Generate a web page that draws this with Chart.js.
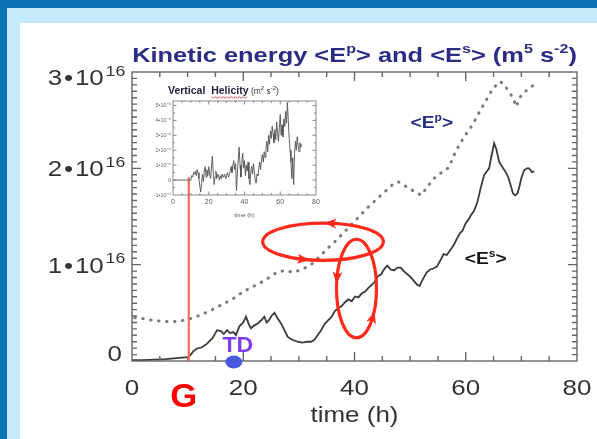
<!DOCTYPE html>
<html><head><meta charset="utf-8">
<script src="https://cdn.jsdelivr.net/npm/chart.js@4.4.1/dist/chart.umd.min.js"></script>
<style>
html,body{margin:0;padding:0;background:#fff}
#wrap{position:relative;width:597px;height:439px;background:#0a74b3;overflow:hidden}
#band{position:absolute;left:7px;top:8px;right:0;bottom:0;background:#c5e8fa}
#panel{position:absolute;left:20px;top:23px;right:0;bottom:0;background:#fff}
canvas{position:absolute}
#main{left:0;top:0}
#inset{left:145px;top:80px}
</style></head>
<body>
<div id="wrap"><div id="band"></div><div id="panel"></div>
<canvas id="main" width="597" height="439"></canvas>
<canvas id="inset" width="180" height="140"></canvas>
</div>
<script>
// ---------------- data (energies in units of 1e16 m^5 s^-2, time in hours) ----------------
const esTime  = [0,2,4,6,8,9,10,10.5,11,11.7,12.5,13.5,14.5,15.3,16,16.5,17.1,17.6,18.2,18.7,19.3,20,20.5,21,21.4,22,22.6,23.2,23.8,24.2,24.6,25.1,25.6,26.2,26.8,27.4,28,28.8,29.8,30.6,31.6,32.2,32.8,33.4,34,34.6,35.2,35.9,36.5,37.1,37.7,38.3,38.9,39.5,40.1,40.7,41.3,41.9,42.5,43.1,43.6,44.2,44.8,45.4,45.9,46.5,47.1,47.7,48.3,48.9,49.5,50.1,50.7,51.3,51.7,52.3,53,53.6,54.2,54.8,55.4,56,56.6,57.2,57.9,58.5,59,59.4,60,60.5,60.9,61.5,62.1,62.7,63.3,63.8,64.2,64.6,65.1,65.5,66,66.6,67.2,67.7,68.1,68.5,68.9,69.3,69.6,70,70.5,71,71.4,71.9,72.3];
const esValue = [0.01,0.01,0.015,0.02,0.03,0.035,0.04,0.06,0.1,0.13,0.14,0.18,0.24,0.32,0.31,0.28,0.32,0.29,0.30,0.27,0.36,0.40,0.46,0.38,0.34,0.37,0.39,0.42,0.46,0.40,0.42,0.47,0.50,0.44,0.39,0.32,0.25,0.22,0.20,0.19,0.20,0.20,0.22,0.27,0.32,0.38,0.42,0.46,0.52,0.55,0.57,0.61,0.64,0.62,0.67,0.66,0.70,0.72,0.76,0.79,0.82,0.88,0.90,0.96,0.99,0.95,0.94,0.97,0.97,0.93,0.90,0.87,0.83,0.79,0.78,0.85,0.92,0.95,0.96,0.98,1.04,1.11,1.10,1.15,1.21,1.28,1.33,1.35,1.43,1.47,1.51,1.56,1.65,1.80,1.93,1.97,2.00,2.12,2.26,2.20,2.07,2.01,1.96,1.90,1.82,1.74,1.72,1.74,1.80,1.90,1.98,2.00,2.00,1.96,1.97];
const epTime  = [0.5,2,4,6,8,10,12,14,16,18,20,22,24,26,27.5,29,30.5,32,33.5,35,36.5,38,39.5,41,42.5,44,45.5,47,47.9,49,50.5,52,53,54.2,55.5,57,58,58.8,60,61.2,62.4,63.6,64.9,66.1,66.8,67.6,68.4,69.1,69.6,70.2,71,71.5,72.1,72.7];
const epValue = [0.45,0.44,0.42,0.41,0.41,0.43,0.47,0.52,0.58,0.64,0.72,0.78,0.84,0.92,0.94,0.92,0.95,0.99,1.07,1.16,1.24,1.33,1.42,1.51,1.60,1.68,1.76,1.84,1.86,1.82,1.77,1.72,1.80,1.89,1.95,2.01,2.15,2.24,2.35,2.45,2.58,2.70,2.83,2.90,2.88,2.81,2.74,2.64,2.72,2.78,2.81,2.83,2.86,2.88];
// inset: vertical helicity
const helTime  = [0,2,4,6,8,10,10.5,11,11.5,12,12.5,13,13.5,14,14.5,15,15.5,16,16.5,17,17.5,18,18.5,19,19.5,20,20.5,21,21.5,22,22.5,23,23.5,24,24.5,25,25.5,26,26.5,27,27.5,28,28.5,29,29.5,30,30.5,31,31.5,32,32.5,33,33.5,34,34.5,35,35.5,36,36.5,37,37.5,38,38.5,39,39.5,40,40.5,41,41.5,42,42.5,43,43.5,44,44.5,45,45.5,46,46.5,47,47.5,48,48.5,49,49.5,50,50.5,51,51.5,52,52.5,53,53.5,54,54.5,55,55.5,56,56.5,57,57.5,58,58.5,59,59.5,60,60.5,61,61.5,62,62.5,63,63.5,64,64.5,65,65.5,66,66.5,67,67.5,68,68.5,69,69.5,70,70.5,71,71.5,72];
const helValue = [0,0,0,0,0,0,0.3,0.2,0.5,0.4,0.6,0.3,0.7,0.5,0.1,-0.4,-0.8,-0.2,0.4,-0.1,0.6,0.9,0.2,0.7,0.3,0.9,0.4,0.1,0.8,1.6,0.5,-0.3,0.2,0.6,0.1,0.4,0.3,0.0,0.3,0.1,0.4,0.2,0.3,0.4,0.1,0.3,0.5,0.2,0.3,0.6,0.9,0.5,1.0,1.3,0.7,1.1,-0.7,0.4,1.4,2.2,1.0,0.2,1.1,1.8,0.8,1.3,0.3,1.0,0.6,1.2,0.1,-0.3,0.5,0.9,0.4,1.1,0.6,0.0,-0.2,0.4,0.3,0.8,1.2,0.7,1.4,1.7,1.2,1.9,1.5,2.1,2.6,1.9,3.0,2.4,3.3,2.8,3.6,3.1,2.5,3.4,2.7,3.9,3.2,2.6,3.5,4.4,3.0,3.7,2.9,4.1,3.6,4.6,3.8,5.2,4.0,2.8,2.0,1.2,0.1,1.5,-0.3,1.8,2.6,2.0,2.9,2.3,1.9,2.5,2.2,2.4];
// ticks and labels
const xTicks = [0,20,40,60,80];
const yTicks = [0,1,2,3];
const yTickMantissa = ['0','1','2','3'];
const yTickExponent = '16';
const insetXTicks = [0,20,40,60,80];
const insetYTicks = [-1,0,1,2,3,4,5];
const insetYLabels = ['-1•10⁻⁴','0','1•10⁻⁴','2•10⁻⁴','3•10⁻⁴','4•10⁻⁴','5•10⁻⁴'];
// events (hours)
const gTime = 10.2;       // genesis
const tdTime = 18.3;      // tropical depression
const gLineTopHel = 0.2;  // helicity value where the genesis line starts in inset

// ---------------- helpers ----------------
const FONT = "'Liberation Sans', Arial, Helvetica, sans-serif";
function drawRich(ctx, parts, x, y, o){
  const supSize = o.supSize || Math.round(o.size*0.65);
  const w = o.weight || 'normal';
  const hs = o.hs || 1;
  let total = 0; const widths = [];
  parts.forEach(p=>{ ctx.font = `${w} ${p[1]?supSize:o.size}px ${FONT}`; const m = ctx.measureText(p[0]).width + (o.gap||0); widths.push(m); total += m; });
  const tw = total*hs;
  let sx = o.align==='right' ? x-tw : o.align==='center' ? x-tw/2 : x;
  ctx.save();
  ctx.translate(sx, y); ctx.scale(hs, 1);
  ctx.fillStyle = o.color; ctx.textBaseline = 'alphabetic'; ctx.textAlign = 'left';
  let cx = 0;
  parts.forEach((p,i)=>{ ctx.font = `${w} ${p[1]?supSize:o.size}px ${FONT}`; ctx.fillText(p[0], cx, p[1]? -o.size*(o.supRaise||0.42) : 0); cx += widths[i]; });
  ctx.restore();
  return tw;
}
function drawFrame(chart, o){
  const {ctx, chartArea:a, scales:{x,y}} = chart;
  ctx.save(); ctx.strokeStyle = o.color; ctx.lineWidth = o.lw;
  ctx.strokeRect(a.left, a.top, a.right-a.left, a.bottom-a.top);
  ctx.beginPath();
  const nx = Math.round((x.max-x.min)/o.xStep);
  for(let i=1;i<nx;i++){ const v = x.min+i*o.xStep; const p = x.getPixelForValue(v);
    const major = Math.abs(v/o.xMajor-Math.round(v/o.xMajor))<1e-6; const L = major?o.majorLen:o.minorLen;
    ctx.moveTo(p,a.bottom); ctx.lineTo(p,a.bottom-L); ctx.moveTo(p,a.top); ctx.lineTo(p,a.top+L); }
  const ny = Math.floor((y.max-y.min)/o.yStep+1e-6);
  for(let i=1;i<=ny;i++){ const v = y.min+i*o.yStep; if (v>=y.max-1e-9) break; const p = y.getPixelForValue(v);
    const major = Math.abs(v/o.yMajor-Math.round(v/o.yMajor))<1e-6; const L = major?o.majorLen:o.minorLen;
    ctx.moveTo(a.left,p); ctx.lineTo(a.left+L,p); ctx.moveTo(a.right,p); ctx.lineTo(a.right-L,p); }
  ctx.stroke(); ctx.restore();
}

// ---------------- inset chart ----------------
const insetCanvas = document.getElementById('inset');
const insetChart = new Chart(insetCanvas, {
  type:'line',
  data:{datasets:[{data: helTime.map((t,i)=>({x:t,y:helValue[i]})), borderColor:'#505050', borderWidth:0.9, pointRadius:0, tension:0}]},
  options:{
    animation:false, responsive:false, devicePixelRatio:1,
    layout:{padding:{top:21,right:9,left:0,bottom:0}},
    plugins:{legend:{display:false},tooltip:{enabled:false}},
    scales:{
      x:{type:'linear',min:0,max:80,grid:{display:false,drawTicks:false},border:{display:false},
         afterBuildTicks:s=>{s.ticks = insetXTicks.map(v=>({value:v}));},
         ticks:{font:{family:FONT,size:7},color:'#555',padding:3,maxRotation:0,autoSkip:false},
         title:{display:true,text:'time (h)',font:{family:FONT,size:6},color:'#555',padding:{top:0,bottom:1}},
         afterFit:s=>{s.height=25;}},
      y:{type:'linear',min:-1,max:5.3,grid:{display:false,drawTicks:false},border:{display:false},
         afterBuildTicks:s=>{s.ticks = insetYTicks.map(v=>({value:v}));},
         ticks:{font:{family:FONT,size:5.5},color:'#666',padding:2,autoSkip:false,
           callback:(v)=>{const i = insetYTicks.indexOf(v); return i>=0?insetYLabels[i]:'';}},
         afterFit:s=>{s.width=28;}}
    }
  },
  plugins:[{id:'insetDeco', afterDatasetsDraw(chart){
      drawFrame(chart,{color:'#888',lw:1,xStep:5,xMajor:20,yStep:0.5,yMajor:1,minorLen:2,majorLen:3.5});
      const ctx = chart.ctx, a = chart.chartArea;
      ctx.save();
      ctx.font = `bold 10.5px ${FONT}`; ctx.fillStyle='#1c1c3a'; ctx.textBaseline='alphabetic';
      const t1 = 'Vertical  '; const t2 = 'Helicity';
      const x0 = a.left-5, base = a.top-7;
      ctx.fillText(t1, x0, base);
      const w1 = ctx.measureText(t1).width, w2 = ctx.measureText(t2).width;
      ctx.fillText(t2, x0+w1, base);
      ctx.strokeStyle='#e03030'; ctx.lineWidth=0.8; ctx.beginPath();
      for(let k=0;k<=Math.floor(w2/2);k++){ const px = x0+w1+k*2; const py = base+3+(k%2?1.2:-0.2); if(k===0)ctx.moveTo(px,py); else ctx.lineTo(px,py);} ctx.stroke();
      drawRich(ctx,[[' (m',0],['2',1],[' s',0],['-2',1],[')',0]], x0+w1+w2, base, {size:8.5,supSize:6,color:'#333',align:'left'});
      ctx.restore();
  }}]
});

// ---------------- main chart ----------------
const HS = 1.18; // horizontal stretch of the slide text
const loops = [
  {cx:34.34, cy:1.238, rx:10.84, ry:0.193, arrows:[-83,109]},
  {cx:40.36, cy:0.752, rx:3.6, ry:0.512, arrows:[192.7,35.5]}
];
const mainChart = new Chart(document.getElementById('main'), {
  type:'line',
  data:{datasets:[
    {label:'<Ep>', data: epTime.map((t,i)=>({x:t,y:epValue[i]})), borderColor:'#7a7a7a', borderWidth:3, borderDash:[0.5,7.5], borderCapStyle:'round', pointRadius:0, tension:0},
    {label:'<Es>', data: esTime.map((t,i)=>({x:t,y:esValue[i]})), borderColor:'#3a3a3a', borderWidth:1.8, pointRadius:0, tension:0}
  ]},
  options:{
    animation:false, responsive:false, devicePixelRatio:1,
    layout:{padding:{top:72,right:20,left:0,bottom:0}},
    plugins:{legend:{display:false},tooltip:{enabled:false},title:{display:false}},
    scales:{
      x:{type:'linear',min:0,max:80,grid:{display:false,drawTicks:false},border:{display:false},
         afterBuildTicks:s=>{s.ticks = xTicks.map(v=>({value:v}));},
         ticks:{display:false},
         afterFit:s=>{s.height=78;}},
      y:{type:'linear',min:0,max:3,grid:{display:false,drawTicks:false},border:{display:false},
         afterBuildTicks:s=>{s.ticks = yTicks.map(v=>({value:v}));},
         ticks:{display:false},
         afterFit:s=>{s.width=132;}}
    }
  },
  plugins:[{id:'mainDeco',
    afterDatasetsDraw(chart){
      drawFrame(chart,{color:'#666',lw:1.4,xStep:5,xMajor:20,yStep:1/15,yMajor:1,minorLen:5,majorLen:9});
    },
    afterDraw(chart){
      const {ctx, chartArea:a, scales:{x,y}} = chart;
      ctx.save();
      // x tick labels and axis title
      xTicks.forEach(v=>{
        drawRich(ctx, [[String(v),0]], x.getPixelForValue(v), a.bottom+34, {size:22, color:'#333', align:'center', hs:HS});
      });
      drawRich(ctx, [['time (h)',0]], (a.left+a.right)/2, a.bottom+61, {size:22, color:'#333', align:'center', hs:HS});
      // y tick labels with exponents
      yTicks.forEach((v,i)=>{
        const cy = Math.min(Math.max(y.getPixelForValue(v), a.top+5), a.bottom-8);
        if (v===0) {
          drawRich(ctx, [[yTickMantissa[i],0]], a.left-10, cy+8, {size:22, color:'#333', align:'right', hs:HS});
        } else {
          drawRich(ctx, [[yTickMantissa[i],0],['•',0],['10',0],[yTickExponent,1]], a.left-5, cy+8,
                   {size:22, supSize:15, color:'#333', align:'right', supRaise:0.42, gap:1.5, hs:HS});
        }
      });
      // title
      drawRich(ctx, [['Kinetic energy <E',0],['p',1],['> and <E',0],['s',1],['> (m',0],['5',1],[' s',0],['-2',1],[')',0]],
               (a.left+a.right)/2, 62, {size:20.5, supSize:13, weight:'bold', color:'#2b2d85', align:'center', hs:1.24});
      // series labels
      drawRich(ctx, [['<E',0],['p',1],['>',0]], x.getPixelForValue(53.9), y.getPixelForValue(2.48)+6, {size:16,supSize:10,weight:'bold',color:'#232c83',align:'center',hs:1.2});
      drawRich(ctx, [['<E',0],['s',1],['>',0]], x.getPixelForValue(63.6), y.getPixelForValue(1.07)+6, {size:16,supSize:10,weight:'bold',color:'#111',align:'center',hs:1.2});
      // genesis line
      const gx = x.getPixelForValue(gTime);
      const gTop = insetCanvas.offsetTop + insetChart.scales.y.getPixelForValue(gLineTopHel);
      ctx.strokeStyle='#f36a58'; ctx.lineWidth=2.2; ctx.beginPath(); ctx.moveTo(gx,gTop); ctx.lineTo(gx,a.bottom); ctx.stroke();
      drawRich(ctx, [['G',0]], gx-5, a.bottom+46, {size:33, weight:'bold', color:'#f00', align:'center', hs:1.05});
      // TD marker
      const tx = x.getPixelForValue(tdTime);
      ctx.fillStyle='#4a58e0'; ctx.beginPath(); ctx.ellipse(tx, a.bottom+1, 8.5, 6.5, 0, 0, Math.PI*2); ctx.fill();
      drawRich(ctx, [['TD',0]], tx+4, y.getPixelForValue(0)-9, {size:22, weight:'bold', color:'#7b3ff0', align:'center', hs:1.05});
      // loops with arrows
      ctx.strokeStyle='#ff2a1a'; ctx.fillStyle='#ff2a1a'; ctx.lineWidth=3.2;
      loops.forEach(L=>{
        const px = x.getPixelForValue(L.cx), py = y.getPixelForValue(L.cy);
        const Rx = x.getPixelForValue(L.cx+L.rx)-px, Ry = py - y.getPixelForValue(L.cy+L.ry);
        ctx.beginPath(); ctx.ellipse(px,py,Rx,Ry,0,0,Math.PI*2); ctx.stroke();
        L.arrows.forEach(deg=>{
          const t = deg*Math.PI/180;
          const P = [px+Rx*Math.cos(t), py+Ry*Math.sin(t)];
          let d = [Rx*Math.sin(t), -Ry*Math.cos(t)]; const n = Math.hypot(d[0],d[1]); d=[d[0]/n,d[1]/n];
          const nrm = [-d[1], d[0]];
          ctx.beginPath();
          ctx.moveTo(P[0]+d[0]*6, P[1]+d[1]*6);
          ctx.lineTo(P[0]-d[0]*6+nrm[0]*5, P[1]-d[1]*6+nrm[1]*5);
          ctx.lineTo(P[0]-d[0]*3, P[1]-d[1]*3);
          ctx.lineTo(P[0]-d[0]*6-nrm[0]*5, P[1]-d[1]*6-nrm[1]*5);
          ctx.closePath(); ctx.fill();
        });
      });
      ctx.restore();
    }
  }]
});
</script>
</body></html>
